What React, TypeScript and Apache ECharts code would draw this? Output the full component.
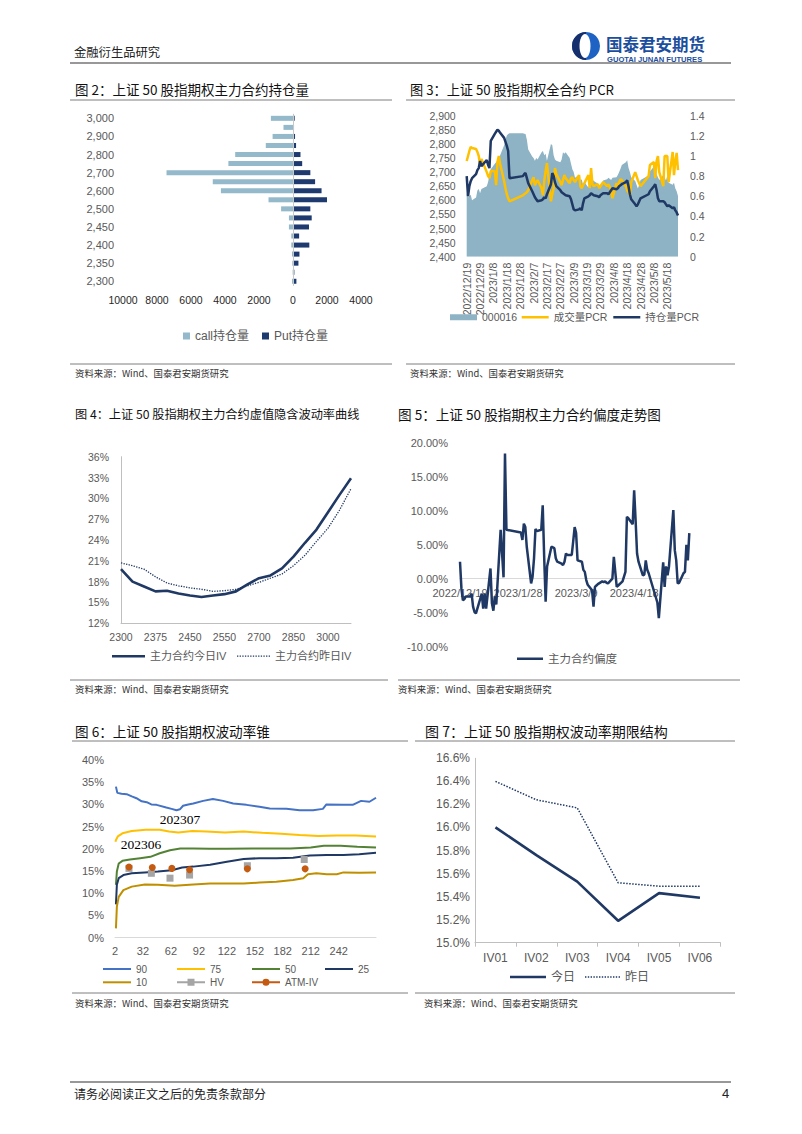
import React, { useEffect, useRef } from 'react';
import * as echarts from 'echarts';

const SANS = '"Liberation Sans", "Noto Sans CJK SC", sans-serif';
const CJK = '"Noto Sans CJK SC", "Liberation Sans", sans-serif';
const SERIF = '"Liberation Serif", "DejaVu Serif", serif';

const NAVY = '#1F3864';
const YELLOW = '#FFC000';
const C_AREA = '#8DB3C4';
const C_CALL = '#93B9CA';
const C_PUT = '#1F3A6E';

// ---------- 图2 持仓量 ----------
const strikes2 = ['2300', '2325', '2350', '2375', '2400', '2425', '2450', '2475', '2500', '2550', '2600', '2650', '2700', '2750', '2800', '2850', '2900', '2950', '3000'];
const callOI = [60, 20, 40, 60, 100, 100, 240, 240, 700, 1440, 4240, 4720, 7440, 3800, 3400, 1600, 1200, 560, 1300];
const putOI = [200, 80, 320, 380, 960, 360, 940, 1100, 1020, 2000, 1680, 1300, 1020, 540, 440, 180, 120, 60, 100];

// ---------- 交易日 ----------
const tradeDates = [
  '2022/12/19', '2022/12/20', '2022/12/21', '2022/12/22', '2022/12/23', '2022/12/26', '2022/12/27', '2022/12/28', '2022/12/29', '2022/12/30',
  '2023/1/3', '2023/1/4', '2023/1/5', '2023/1/6', '2023/1/9', '2023/1/10', '2023/1/11', '2023/1/12', '2023/1/13', '2023/1/16', '2023/1/17', '2023/1/18', '2023/1/19', '2023/1/20', '2023/1/30', '2023/1/31',
  '2023/2/1', '2023/2/2', '2023/2/3', '2023/2/6', '2023/2/7', '2023/2/8', '2023/2/9', '2023/2/10', '2023/2/13', '2023/2/14', '2023/2/15', '2023/2/16', '2023/2/17', '2023/2/20', '2023/2/21', '2023/2/22', '2023/2/23', '2023/2/24', '2023/2/27', '2023/2/28',
  '2023/3/1', '2023/3/2', '2023/3/3', '2023/3/6', '2023/3/7', '2023/3/8', '2023/3/9', '2023/3/10', '2023/3/13', '2023/3/14', '2023/3/15', '2023/3/16', '2023/3/17', '2023/3/20', '2023/3/21', '2023/3/22', '2023/3/23', '2023/3/24', '2023/3/27', '2023/3/28', '2023/3/29', '2023/3/30', '2023/3/31',
  '2023/4/3', '2023/4/4', '2023/4/6', '2023/4/7', '2023/4/10', '2023/4/11', '2023/4/12', '2023/4/13', '2023/4/14', '2023/4/17', '2023/4/18', '2023/4/19', '2023/4/20', '2023/4/21', '2023/4/24', '2023/4/25', '2023/4/26', '2023/4/27', '2023/4/28',
  '2023/5/4', '2023/5/5', '2023/5/8', '2023/5/9', '2023/5/10', '2023/5/11', '2023/5/12', '2023/5/15', '2023/5/16', '2023/5/17', '2023/5/18', '2023/5/19', '2023/5/22', '2023/5/23', '2023/5/24', '2023/5/25', '2023/5/26',
];

// ---------- 图3 PCR ----------
const pcrTicks = ['2022/12/19', '2022/12/29', '2023/1/8', '2023/1/18', '2023/1/28', '2023/2/7', '2023/2/17', '2023/2/27', '2023/3/9', '2023/3/19', '2023/3/29', '2023/4/8', '2023/4/18', '2023/4/28', '2023/5/8', '2023/5/18'];
const idx000016 = [
  2625, 2610, 2615, 2620, 2600, 2610, 2635, 2640, 2625, 2640,
  2650, 2665, 2690, 2710, 2730, 2735, 2740, 2745, 2760, 2795, 2815, 2830, 2835, 2838, 2838, 2836,
  2835, 2815, 2780, 2755, 2750, 2740, 2750, 2745, 2770, 2775, 2760, 2765, 2740, 2800, 2795, 2760, 2745, 2740, 2735, 2745,
  2770, 2765, 2770, 2750, 2730, 2710, 2700, 2680, 2690, 2670, 2675, 2655, 2665, 2645, 2660, 2672, 2675, 2668, 2660, 2652, 2650, 2660, 2670,
  2675, 2680, 2672, 2680, 2682, 2690, 2700, 2712, 2725, 2735, 2742, 2715, 2700, 2682, 2668, 2655, 2642, 2655, 2672,
  2688, 2702, 2720, 2710, 2692, 2682, 2672, 2690, 2682, 2670, 2688, 2662, 2655, 2662, 2642, 2632, 2615,
];
const volPCR = [
  0.95, 1.00, 1.05, 1.09, 1.08, 1.07, 1.04, 1.00, 0.91, 0.97,
  0.84, 0.80, 0.78, 0.85, 0.85, 0.71, 0.94, 1.00, 0.92, 0.75, 0.68, 0.62, 0.58, 0.55, 0.61, 0.62,
  0.63, 0.64, 0.66, 0.76, 0.79, 0.71, 0.74, 0.76, 0.68, 0.61, 0.75, 0.85, 0.93, 0.55, 0.62, 0.68, 0.88, 0.82, 0.74, 0.71,
  0.76, 0.81, 0.78, 0.73, 0.78, 0.79, 0.76, 0.74, 0.81, 0.70, 0.68, 0.71, 0.73, 0.81, 0.68, 0.88, 0.72, 0.70, 0.72, 0.68, 0.70, 0.72, 0.74,
  0.70, 0.72, 0.66, 0.58, 0.73, 0.70, 0.74, 0.77, 0.76, 0.70, 0.66, 0.64, 0.61, 0.74, 0.84, 0.80, 0.76, 0.73, 0.70,
  0.80, 0.91, 0.94, 0.78, 0.95, 1.00, 0.84, 0.70, 1.00, 1.00, 1.00, 0.74, 1.04, 0.81, 0.95, 1.03, 0.86,
];
const oiPCR = [
  0.80, 0.60, 0.70, 0.75, 0.78, 0.82, 0.86, 0.88, 0.95, 0.90,
  0.96, 0.91, 0.88, 1.15, 1.22, 1.24, 1.26, 1.25, 1.23, 1.18, 1.14, 1.10, 1.05, 0.78, 0.80, 0.82,
  0.83, 0.78, 0.73, 0.65, 0.62, 0.59, 0.57, 0.55, 0.56, 0.57, 0.59, 0.58, 0.62, 0.72, 0.83, 0.80, 0.74, 0.70, 0.66, 0.64,
  0.63, 0.62, 0.61, 0.60, 0.57, 0.52, 0.47, 0.46, 0.47, 0.48, 0.46, 0.53, 0.58, 0.60, 0.61, 0.63, 0.62, 0.61, 0.60, 0.59, 0.61, 0.62, 0.63,
  0.63, 0.62, 0.66, 0.68, 0.67, 0.68, 0.70, 0.71, 0.72, 0.74, 0.76, 0.70, 0.62, 0.57, 0.52, 0.50, 0.52, 0.55, 0.58,
  0.62, 0.65, 0.70, 0.72, 0.66, 0.58, 0.55, 0.55, 0.54, 0.52, 0.50, 0.51, 0.48, 0.49, 0.46, 0.44, 0.41,
];

// ---------- 图4 IV 曲线 ----------
const strikes4 = ['2300', '2325', '2350', '2375', '2400', '2425', '2450', '2475', '2500', '2550', '2600', '2650', '2700', '2750', '2800', '2850', '2900', '2950', '3000', '3100', '3200'];
const ivToday = [19.8, 18.0, 17.3, 16.6, 16.7, 16.3, 16.0, 15.8, 16.0, 16.2, 16.6, 17.6, 18.5, 18.9, 19.9, 21.6, 23.6, 25.5, 28.0, 30.5, 32.9];
const ivYest = [20.7, 20.3, 19.8, 18.7, 17.8, 17.4, 17.1, 16.9, 16.6, 16.7, 16.9, 17.4, 17.9, 18.5, 19.1, 20.3, 21.8, 23.8, 25.7, 28.3, 31.4];

// ---------- 图5 偏度 ----------
const skewTicks = ['2022/12/19', '2023/1/28', '2023/3/9', '2023/4/18'];
const skew = [
  2.5, -1.5, -3.2, -3.0, -2.6, -2.6, -2.2, -4.1, -4.9, -5.1,
  -2.2, -4.4, -2.2, -4.4, 1.5, -3.6, -4.7, -2.6, -3.8, 7.2, 3.7, 0.2, 18.4, 7.2, 6.8, 5.7,
  8.1, 7.6, 4.7, -0.7, 0.3, 3.0, 7.3, 7.0, 7.2, 10.8, 3.2, -3.4, 1.8, 4.7, 4.6, 4.5, 3.0, 2.5, 2.2, 2.0,
  2.5, 3.7, 3.5, 3.5, 5.5, 7.6, 6.7, 2.7, 2.5, 1.3, 1.0, -0.2, -0.9, -1.7, -4.1, -1.2, -1.0, -0.8, -0.4, -0.5, -0.4, -0.6, -0.7,
  0.0, 3.2, -1.2, -1.0, -0.4, 0.3, 1.0, 9.1, 8.9, 8.0, 13.0, 8.6, 3.7, 2.5, 0.5, 0.6, 2.7, 1.3, 0.8,
  -3.5, -5.8, 2.4, -1.2, 1.8, 0.5, 1.8, 10.1, 4.2, 2.7, -0.7, -0.6, 0.8, 1.0, 5.0, 2.7, 6.7,
];

// ---------- 图6 波动率锥 ----------
const coneTicks = [2, 32, 62, 92, 122, 152, 182, 212, 242];
const cone90 = [[3, 34.0], [4.5, 32.6], [9, 32.4], [14.5, 32.3], [20, 31.8], [25, 31.4], [30.6, 30.7], [36, 30.5], [41, 30.0], [46.6, 29.9], [57, 29.3], [62.7, 29.0], [68, 28.7], [71.6, 28.9], [75, 29.7], [80.6, 30.0], [86, 30.2], [96.6, 30.8], [107, 31.2], [118, 30.8], [128.8, 30.2], [143, 29.9], [157, 29.5], [168, 29.1], [186, 29.0], [200, 28.7], [214.5, 28.7], [225, 29.0], [228.8, 30.0], [246.6, 29.9], [257, 29.9], [266, 30.8], [275, 30.6], [282, 31.5]];
const cone75 = [[2.5, 21.6], [3, 22.0], [5, 22.8], [10, 23.5], [20, 24.0], [35, 24.3], [50, 24.3], [60, 23.9], [70, 23.7], [85, 24.0], [100, 23.9], [120, 23.7], [140, 23.9], [160, 23.6], [180, 23.4], [200, 23.1], [220, 22.9], [240, 23.0], [260, 23.0], [282, 22.8]];
const cone50 = [[3, 11.9], [4, 14.9], [6, 16.7], [10, 17.3], [18, 17.6], [29, 17.9], [40, 18.2], [50, 19.0], [61, 19.7], [72, 20.1], [86, 20.1], [104, 20.0], [122, 20.0], [150, 20.1], [190, 20.1], [212, 20.3], [226, 20.7], [244, 20.7], [262, 20.5], [282, 20.3]];
const cone25 = [[3, 7.5], [4, 11.9], [6, 13.4], [11, 14.1], [20, 14.5], [34, 14.7], [48, 14.9], [63, 15.2], [74, 15.8], [86, 16.0], [104, 16.4], [122, 17.1], [140, 17.7], [157, 17.9], [175, 17.9], [193, 18.0], [211, 18.5], [229, 18.6], [247, 18.6], [264, 18.8], [282, 19.1]];
const cone10 = [[3, 2.1], [4, 7.0], [6, 9.2], [11, 10.7], [20, 11.5], [34, 12.0], [48, 11.9], [66, 11.7], [86, 12.0], [104, 12.2], [122, 12.2], [140, 12.2], [157, 12.4], [175, 12.6], [193, 13.0], [204, 13.4], [209, 14.3], [218, 14.5], [229, 14.3], [240, 14.3], [247, 14.7], [264, 14.6], [282, 14.7]];
const hvPts = [[17, 15.6], [41, 14.5], [61, 13.4], [82, 14.1], [144, 16.2], [205, 17.6]];
const atmPts = [[17, 15.9], [42, 15.8], [63, 15.6], [82, 15.3], [144, 15.5], [206, 15.5]];

// ---------- 图7 期限结构 ----------
const ivCats7 = ['IV01', 'IV02', 'IV03', 'IV04', 'IV05', 'IV06'];
const term7Today = [16.0, 15.76, 15.53, 15.19, 15.43, 15.39];
const term7Yest = [16.40, 16.24, 16.17, 15.52, 15.49, 15.49];

// legend icon shapes
const DOTTED_ICON = 'path://M0,0h1v1h-1z M2,0h1v1h-1z M4,0h1v1h-1z M6,0h1v1h-1z M8,0h1v1h-1z M10,0h1v1h-1z M12,0h1v1h-1z M14,0h1v1h-1z M16,0h1v1h-1z M18,0h1v1h-1z M20,0h1v1h-1z M22,0h1v1h-1z M24,0h1v1h-1z';
const HV_ICON = 'path://M0,3H28V5H0Z M10.5,0.5H17.5V7.5H10.5Z';
const ATM_ICON = 'path://M0,3H28V5H0Z M17.5,4A3.5,3.5 0 1 1 10.5,4A3.5,3.5 0 1 1 17.5,4Z';

const BASE = new Date(2022, 11, 19).getTime();
function dayOf(s: string): number {
  const [y, m, d] = s.split('/').map(Number);
  return Math.round((new Date(y, m - 1, d).getTime() - BASE) / 86400000);
}

function txt(x: number, y: number, text: string, size: number, extra: any = {}) {
  return {
    type: 'text', x, y, silent: true,
    style: { text, fontSize: size, fontFamily: CJK, fill: '#111', align: 'left', verticalAlign: 'middle', ...extra },
  };
}
function hline(x1: number, x2: number, y: number, color = '#7F7F7F', w = 1) {
  return { type: 'line', silent: true, shape: { x1, y1: y, x2, y2: y }, style: { stroke: color, lineWidth: w } };
}

function buildOption(): any {
  const days = tradeDates.map(dayOf);
  const pcrMap = new Map(pcrTicks.map((t) => [dayOf(t), t]));
  const skewMap = new Map(skewTicks.map((t) => [dayOf(t), t]));
  const lab = (size: number, color = '#595959') => ({ fontSize: size, color, fontFamily: SANS });
  const noAxis = { axisLine: { show: false }, axisTick: { show: false }, splitLine: { show: false } };
  const greyLine = (c = '#BFBFBF') => ({ show: true, onZero: false, lineStyle: { color: c, width: 1 } });
  const gaps = (pts: number[][]) => pts.flatMap((p) => [p, [p[0], null]]);
  const legTxt = (size: number) => ({ fontSize: size, color: '#595959', fontFamily: SANS });

  const leg = (name: string, left: number, centerY: number, icon: string, w: number, h: number, size: number) => ({
    data: [{ name, icon }], left, top: centerY - 7, height: 14, padding: 0, itemWidth: w, itemHeight: h, itemGap: 0,
    symbolKeepAspect: false, selectedMode: false, textStyle: legTxt(size), itemStyle: { borderWidth: 0 },
  });

  const graphics: any[] = [
    // header
    txt(74, 52, '金融衍生品研究', 12.3, { fill: '#222' }),
    hline(70, 731, 63, '#333', 1.2),
    { type: 'circle', silent: true, shape: { cx: 586, cy: 46, r: 14 }, style: { fill: '#1E63C4' } },
    { type: 'sector', silent: true, shape: { cx: 586, cy: 46, r: 14, r0: 0, startAngle: Math.PI / 2, endAngle: Math.PI * 1.5 }, style: { fill: '#15306C' } },
    { type: 'ellipse', silent: true, shape: { cx: 585, cy: 46, rx: 5.5, ry: 12 }, style: { fill: '#fff' } },
    txt(606, 43.5, '国泰君安期货', 16.5, { fill: '#1C4E9E', fontWeight: 'bold' }),
    txt(607, 59.5, 'GUOTAI JUNAN FUTURES', 7.6, { fill: '#1C4E9E', fontWeight: 'bold', fontFamily: SANS }),
    // titles
    txt(75, 89, '图 2：上证 50 股指期权主力合约持仓量', 13.5),
    txt(410, 89, '图 3：上证 50 股指期权全合约 PCR', 13.2),
    txt(75, 414, '图 4：上证 50 股指期权主力合约虚值隐含波动率曲线', 12.2),
    txt(398, 414, '图 5：上证 50 股指期权主力合约偏度走势图', 13.6),
    txt(75, 731, '图 6：上证 50 股指期权波动率锥', 13.6),
    txt(425, 731, '图 7：上证 50 股指期权波动率期限结构', 14),
    // rules
    hline(70, 392, 100), hline(406, 735, 100),
    hline(70, 392, 364), hline(406, 735, 364),
    hline(70, 388, 680), hline(398, 740, 680),
    hline(72, 408, 741), hline(415, 735, 741),
    hline(72, 408, 993), hline(415, 735, 993),
    // sources
    txt(75, 373, '资料来源：Wind、国泰君安期货研究', 9.4, { fill: '#333' }),
    txt(410, 373, '资料来源：Wind、国泰君安期货研究', 9.4, { fill: '#333' }),
    txt(75, 689, '资料来源：Wind、国泰君安期货研究', 9.4, { fill: '#333' }),
    txt(398, 689, '资料来源：Wind、国泰君安期货研究', 9.4, { fill: '#333' }),
    txt(75, 1003, '资料来源：Wind、国泰君安期货研究', 9.4, { fill: '#333' }),
    txt(424, 1003, '资料来源：Wind、国泰君安期货研究', 9.4, { fill: '#333' }),
    // cone annotations
    txt(180, 819, '202307', 13.5, { fontFamily: SERIF, align: 'center', fill: '#000' }),
    txt(141, 844, '202306', 13.5, { fontFamily: SERIF, align: 'center', fill: '#000' }),
    // footer
    hline(70, 731, 1082, '#333', 1.2),
    txt(74, 1093, '请务必阅读正文之后的免责条款部分', 12, { fill: '#222' }),
    txt(722, 1093, '4', 13, { fill: '#222', fontFamily: SANS }),
  ];

  return {
    animation: false,
    backgroundColor: '#ffffff',
    textStyle: { fontFamily: SANS },
    grid: [
      { left: 123, top: 113.8, width: 238, height: 172 },
      { left: 466.7, top: 115.7, width: 211.3, height: 141 },
      { left: 121, top: 456.7, width: 230, height: 166.6 },
      { left: 460, top: 442.7, width: 229.3, height: 204 },
      { left: 115, top: 760, width: 261, height: 177.7 },
      { left: 475, top: 758.3, width: 245.4, height: 184.4 },
    ].map((g) => ({ ...g, containLabel: false, outerBoundsMode: 'none' })),
    xAxis: [
      { gridIndex: 0, type: 'value', min: -10000, max: 4000, interval: 2000, ...noAxis,
        axisLabel: { ...lab(10.5, '#262626'), margin: 9, formatter: (v: number) => String(Math.abs(v)) } },
      { gridIndex: 1, type: 'value', min: 0, max: 158, interval: 10, ...noAxis,
        axisLabel: { ...lab(10.5), rotate: 90, margin: 6, formatter: (v: number) => pcrMap.get(v) ?? '' } },
      { gridIndex: 2, type: 'category', data: strikes4, boundaryGap: false, axisLine: greyLine(), axisTick: { show: false }, splitLine: { show: false },
        axisLabel: { ...lab(10.5), interval: 2, margin: 8 } },
      // 偏度图横轴放在 0% 处：网格高 204，对应 30 个百分点，0% 距底 10/30
      { gridIndex: 3, type: 'value', min: 0, max: 158, interval: 40, offset: -204 * 10 / 30,
        axisLine: greyLine('#D9D9D9'), axisTick: { show: false }, splitLine: { show: false },
        axisLabel: { ...lab(11), margin: 9, formatter: (v: number) => skewMap.get(v) ?? '' } },
      { gridIndex: 4, type: 'value', min: 2, max: 282, axisLine: greyLine('#D9D9D9'), axisTick: { show: false }, splitLine: { show: false },
        axisLabel: { ...lab(11), margin: 8, customValues: coneTicks } },
      { gridIndex: 5, type: 'category', data: ivCats7, axisLine: greyLine(), axisTick: { show: true, length: 4, lineStyle: { color: '#BFBFBF' } }, splitLine: { show: false },
        axisLabel: { ...lab(12), margin: 9 } },
    ],
    yAxis: [
      { gridIndex: 0, type: 'category', data: strikes2, ...noAxis,
        axisLabel: { ...lab(11), interval: 1, margin: 9, formatter: (v: string) => Number(v).toLocaleString('en-US') } },
      { gridIndex: 1, type: 'value', min: 2400, max: 2900, interval: 50, ...noAxis, axisLabel: { ...lab(10.5), margin: 11 } },
      { gridIndex: 1, type: 'value', position: 'right', min: 0, max: 1.4, interval: 0.2, ...noAxis, axisLabel: { ...lab(10.5), margin: 12 } },
      { gridIndex: 2, type: 'value', min: 12, max: 36, interval: 3, axisLine: greyLine(), axisTick: { show: false }, splitLine: { show: false },
        axisLabel: { ...lab(10.5), margin: 12, formatter: '{value}%' } },
      { gridIndex: 3, type: 'value', min: -10, max: 20, interval: 5, ...noAxis,
        axisLabel: { ...lab(11), margin: 12, formatter: (v: number) => v.toFixed(2) + '%' } },
      { gridIndex: 4, type: 'value', min: 0, max: 40, interval: 5, ...noAxis, axisLabel: { ...lab(11), margin: 11, formatter: '{value}%' } },
      { gridIndex: 5, type: 'value', min: 15, max: 16.6, interval: 0.2, axisLine: greyLine(), axisTick: { show: false }, splitLine: { show: false },
        axisLabel: { ...lab(12), margin: 5, formatter: (v: number) => v.toFixed(1) + '%' } },
    ],
    legend: [
      { data: [{ name: 'call持仓量', icon: 'rect' }, { name: 'Put持仓量', icon: 'rect' }], left: 183, top: 330, padding: 0,
        itemWidth: 7, itemHeight: 7, itemGap: 13, selectedMode: false, textStyle: legTxt(12) },
      leg('000016', 450, 319, 'rect', 27, 6, 10.5),
      leg('成交量PCR', 521.7, 319, 'rect', 27, 2.5, 10.5),
      leg('持仓量PCR', 613.3, 319, 'rect', 27, 2.5, 10.5),
      leg('主力合约今日IV', 112, 657.7, 'rect', 33, 2.6, 11),
      leg('主力合约昨日IV', 237, 657.7, DOTTED_ICON, 33, 1.3, 11),
      leg('主力合约偏度', 517, 660, 'rect', 26, 2.5, 11.5),
      leg('90', 103, 971, 'rect', 28, 2, 10),
      leg('75', 177, 971, 'rect', 28, 2, 10),
      leg('50', 252, 971, 'rect', 28, 2, 10),
      leg('25', 325, 971, 'rect', 28, 2, 10),
      leg('10', 103, 984.3, 'rect', 28, 2, 10),
      leg('HV', 177, 984.3, HV_ICON, 28, 7, 10),
      leg('ATM-IV', 252, 984.3, ATM_ICON, 28, 7, 10),
      leg('今日', 510, 978, 'rect', 36, 2.6, 12),
      leg('昨日', 585, 978, DOTTED_ICON, 35, 1.5, 12),
    ],
    series: [
      // 图2
      { type: 'bar', name: 'call持仓量', xAxisIndex: 0, yAxisIndex: 0, stack: 'oi', barWidth: 5,
        data: callOI.map((v) => -v), itemStyle: { color: C_CALL } },
      { type: 'bar', name: 'Put持仓量', xAxisIndex: 0, yAxisIndex: 0, stack: 'oi', barWidth: 5,
        data: putOI, itemStyle: { color: C_PUT },
        markLine: { silent: true, symbol: 'none', label: { show: false }, lineStyle: { color: '#C8C8C8', width: 1, type: 'solid' }, data: [{ xAxis: 0 }] } },
      // 图3
      { type: 'line', name: '000016', xAxisIndex: 1, yAxisIndex: 1, symbol: 'none',
        data: days.map((d, i) => [d, idx000016[i]]),
        lineStyle: { width: 0, color: C_AREA }, itemStyle: { color: C_AREA }, areaStyle: { color: C_AREA, opacity: 1, origin: 'start' } },
      { type: 'line', name: '成交量PCR', xAxisIndex: 1, yAxisIndex: 2, symbol: 'none',
        data: days.map((d, i) => [d, volPCR[i]]), lineStyle: { width: 2.5, color: YELLOW }, itemStyle: { color: YELLOW } },
      { type: 'line', name: '持仓量PCR', xAxisIndex: 1, yAxisIndex: 2, symbol: 'none',
        data: days.map((d, i) => [d, oiPCR[i]]), lineStyle: { width: 2.5, color: NAVY }, itemStyle: { color: NAVY } },
      // 图4
      { type: 'line', name: '主力合约今日IV', xAxisIndex: 2, yAxisIndex: 3, symbol: 'none',
        data: ivToday, lineStyle: { width: 2.6, color: NAVY }, itemStyle: { color: NAVY } },
      { type: 'line', name: '主力合约昨日IV', xAxisIndex: 2, yAxisIndex: 3, symbol: 'none',
        data: ivYest, lineStyle: { width: 1.3, type: 'dotted', color: NAVY }, itemStyle: { color: NAVY } },
      // 图5
      { type: 'line', name: '主力合约偏度', xAxisIndex: 3, yAxisIndex: 4, symbol: 'none',
        data: days.map((d, i) => [d, skew[i]]), lineStyle: { width: 2.5, color: NAVY }, itemStyle: { color: NAVY } },
      // 图6
      { type: 'line', name: '90', xAxisIndex: 4, yAxisIndex: 5, symbol: 'none', data: cone90, lineStyle: { width: 2, color: '#4472C4' }, itemStyle: { color: '#4472C4' } },
      { type: 'line', name: '75', xAxisIndex: 4, yAxisIndex: 5, symbol: 'none', data: cone75, lineStyle: { width: 2, color: YELLOW }, itemStyle: { color: YELLOW } },
      { type: 'line', name: '50', xAxisIndex: 4, yAxisIndex: 5, symbol: 'none', data: cone50, lineStyle: { width: 2, color: '#548235' }, itemStyle: { color: '#548235' } },
      { type: 'line', name: '25', xAxisIndex: 4, yAxisIndex: 5, symbol: 'none', data: cone25, lineStyle: { width: 2, color: NAVY }, itemStyle: { color: NAVY } },
      { type: 'line', name: '10', xAxisIndex: 4, yAxisIndex: 5, symbol: 'none', data: cone10, lineStyle: { width: 2, color: '#BF8F00' }, itemStyle: { color: '#BF8F00' } },
      { type: 'line', name: 'HV', xAxisIndex: 4, yAxisIndex: 5, symbol: 'rect', symbolSize: 7, showSymbol: true, connectNulls: false,
        data: gaps(hvPts), lineStyle: { width: 2, color: '#A5A5A5' }, itemStyle: { color: '#A5A5A5' } },
      { type: 'line', name: 'ATM-IV', xAxisIndex: 4, yAxisIndex: 5, symbol: 'circle', symbolSize: 7, showSymbol: true, connectNulls: false,
        data: gaps(atmPts), lineStyle: { width: 2, color: '#C55A11' }, itemStyle: { color: '#C55A11' } },
      // 图7
      { type: 'line', name: '今日', xAxisIndex: 5, yAxisIndex: 6, symbol: 'none',
        data: term7Today, lineStyle: { width: 2.6, color: NAVY }, itemStyle: { color: NAVY } },
      { type: 'line', name: '昨日', xAxisIndex: 5, yAxisIndex: 6, symbol: 'none',
        data: term7Yest, lineStyle: { width: 1.5, type: 'dotted', color: NAVY }, itemStyle: { color: NAVY } },
    ],
    graphic: graphics,
  };
}

export default function App() {
  const ref = useRef<HTMLDivElement>(null);
  useEffect(() => {
    if (!ref.current) return;
    const chart = echarts.init(ref.current, null, { renderer: 'svg' });
    chart.setOption(buildOption());
    return () => chart.dispose();
  }, []);
  return (
    <div
      ref={ref}
      style={{ position: 'absolute', left: 0, top: 0, width: 802, height: 1134, background: '#fff' }}
    />
  );
}
